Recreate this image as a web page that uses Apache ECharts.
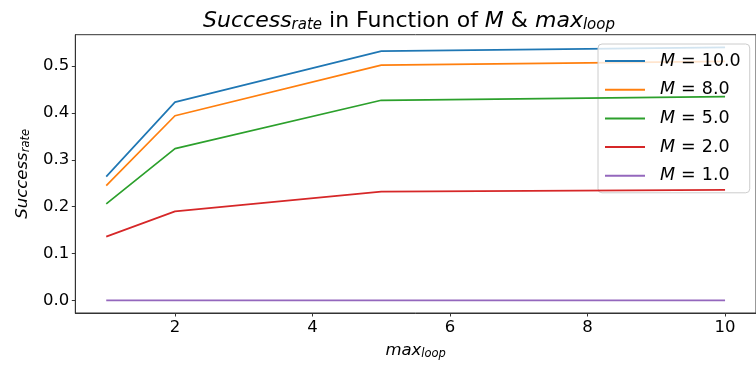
<!DOCTYPE html>
<html>
<head>
<meta charset="utf-8">
<script src="https://cdn.jsdelivr.net/npm/echarts@6/dist/echarts.min.js"></script>
<style>html,body{margin:0;padding:0;background:#fff}#c{width:756px;height:365px}</style>
</head>
<body>
<div id="c"></div>
<script>
const xValues = [1, 2, 5, 10];
const seriesNames = ['10.0', '8.0', '5.0', '2.0', '1.0'];
const m10 = [0.264, 0.423, 0.532, 0.540];
const m8 = [0.245, 0.394, 0.502, 0.510];
const m5 = [0.206, 0.324, 0.427, 0.435];
const m2 = [0.136, 0.190, 0.232, 0.236];
const m1 = [0.0, 0.0, 0.0, 0.0];
const xTicks = [2, 4, 6, 8, 10];
const yTicks = [0.0, 0.1, 0.2, 0.3, 0.4, 0.5];
const colors = ['#1f77b4', '#ff7f0e', '#2ca02c', '#d62728', '#9467bd'];

const FONT = 'DejaVu Sans';
const allSeries = [m10, m8, m5, m2, m1];
const chart = echarts.init(document.getElementById('c'), null, {renderer: 'canvas'});
const subRich = {
  i: {fontFamily: FONT, fontStyle: 'italic', fontWeight: 'normal', fontSize: 22, color: '#000'},
  n: {fontFamily: FONT, fontWeight: 'normal', fontSize: 22, color: '#000'},
  s: {fontFamily: FONT, fontStyle: 'italic', fontWeight: 'normal', fontSize: 15, color: '#000', padding: [9, 0, 0, 0]}
};
const LF = 17.5;
chart.setOption({
  animation: false,
  color: colors,
  title: {
    text: '{i|Success}{s|rate}{n| in Function of }{i|M}{n| & }{i|max}{s|loop}',
    left: 404, top: 4, textAlign: 'center',
    textStyle: {fontWeight: 'normal', rich: subRich}
  },
  grid: {left: 75.3, top: 34.7, right: -4.9, bottom: 51.7, show: true, borderColor: '#333', borderWidth: 1, containLabel: false},
  legend: {
    left: 598, top: 44, orient: 'vertical',
    data: seriesNames.map(n => ({name: 'M = ' + n, icon: 'rect'})),
    itemWidth: 40, itemHeight: 2, itemGap: 10.7,
    padding: [8, 9, 8, 7],
    backgroundColor: 'rgba(255,255,255,0.8)', borderColor: '#ccc', borderWidth: 1, borderRadius: 4,
    formatter: function (name) { return '{i|M}{e|=}' + name.slice(4); },
    textStyle: {fontFamily: FONT, fontSize: LF, lineHeight: 17.5, color: '#000', padding: [0, 0, 0, 10],
      rich: {
        i: {fontFamily: FONT, fontStyle: 'italic', fontSize: LF, lineHeight: 17.5, color: '#000'},
        e: {fontFamily: FONT, fontSize: LF, lineHeight: 17.5, color: '#000', padding: [0, 6, 0, 6]}
      }}
  },
  xAxis: {
    type: 'value', min: 0.55, max: 10.45,
    name: '{i|max}{s|loop}', nameLocation: 'middle', nameGap: 28,
    nameTextStyle: {rich: {
      i: {fontFamily: FONT, fontStyle: 'italic', fontSize: 16.5, color: '#000'},
      s: {fontFamily: FONT, fontStyle: 'italic', fontSize: 11.5, color: '#000', padding: [7, 0, 0, 0]}
    }},
    splitLine: {show: false},
    axisLine: {show: true, onZero: false, lineStyle: {color: '#333', width: 1}},
    axisTick: {show: true, length: 3.5, lineStyle: {color: '#333'}, customValues: xTicks},
    axisLabel: {customValues: xTicks, fontFamily: FONT, fontSize: 16.5, color: '#000', margin: 6, formatter: v => String(v)}
  },
  yAxis: {
    type: 'value', min: -0.027, max: 0.567,
    name: '{i|Success}{s|rate}', nameLocation: 'middle', nameGap: 43, nameRotate: 90,
    nameTextStyle: {rich: {
      i: {fontFamily: FONT, fontStyle: 'italic', fontSize: 16.5, color: '#000'},
      s: {fontFamily: FONT, fontStyle: 'italic', fontSize: 11.5, color: '#000', padding: [7, 0, 0, 0]}
    }},
    splitLine: {show: false},
    axisLine: {show: true, onZero: false, lineStyle: {color: '#333', width: 1}},
    axisTick: {show: true, length: 3.5, lineStyle: {color: '#333'}, customValues: yTicks},
    axisLabel: {customValues: yTicks, fontFamily: FONT, fontSize: 16.5, color: '#000', margin: 6, formatter: v => v.toFixed(1)}
  },
  series: allSeries.map((vals, k) => ({
    name: 'M = ' + seriesNames[k],
    type: 'line', symbol: 'none', z: 2 + k,
    lineStyle: {width: 1.7, color: colors[k]},
    data: xValues.map((x, i) => [x, vals[i]])
  }))
});
</script>
</body>
</html>
